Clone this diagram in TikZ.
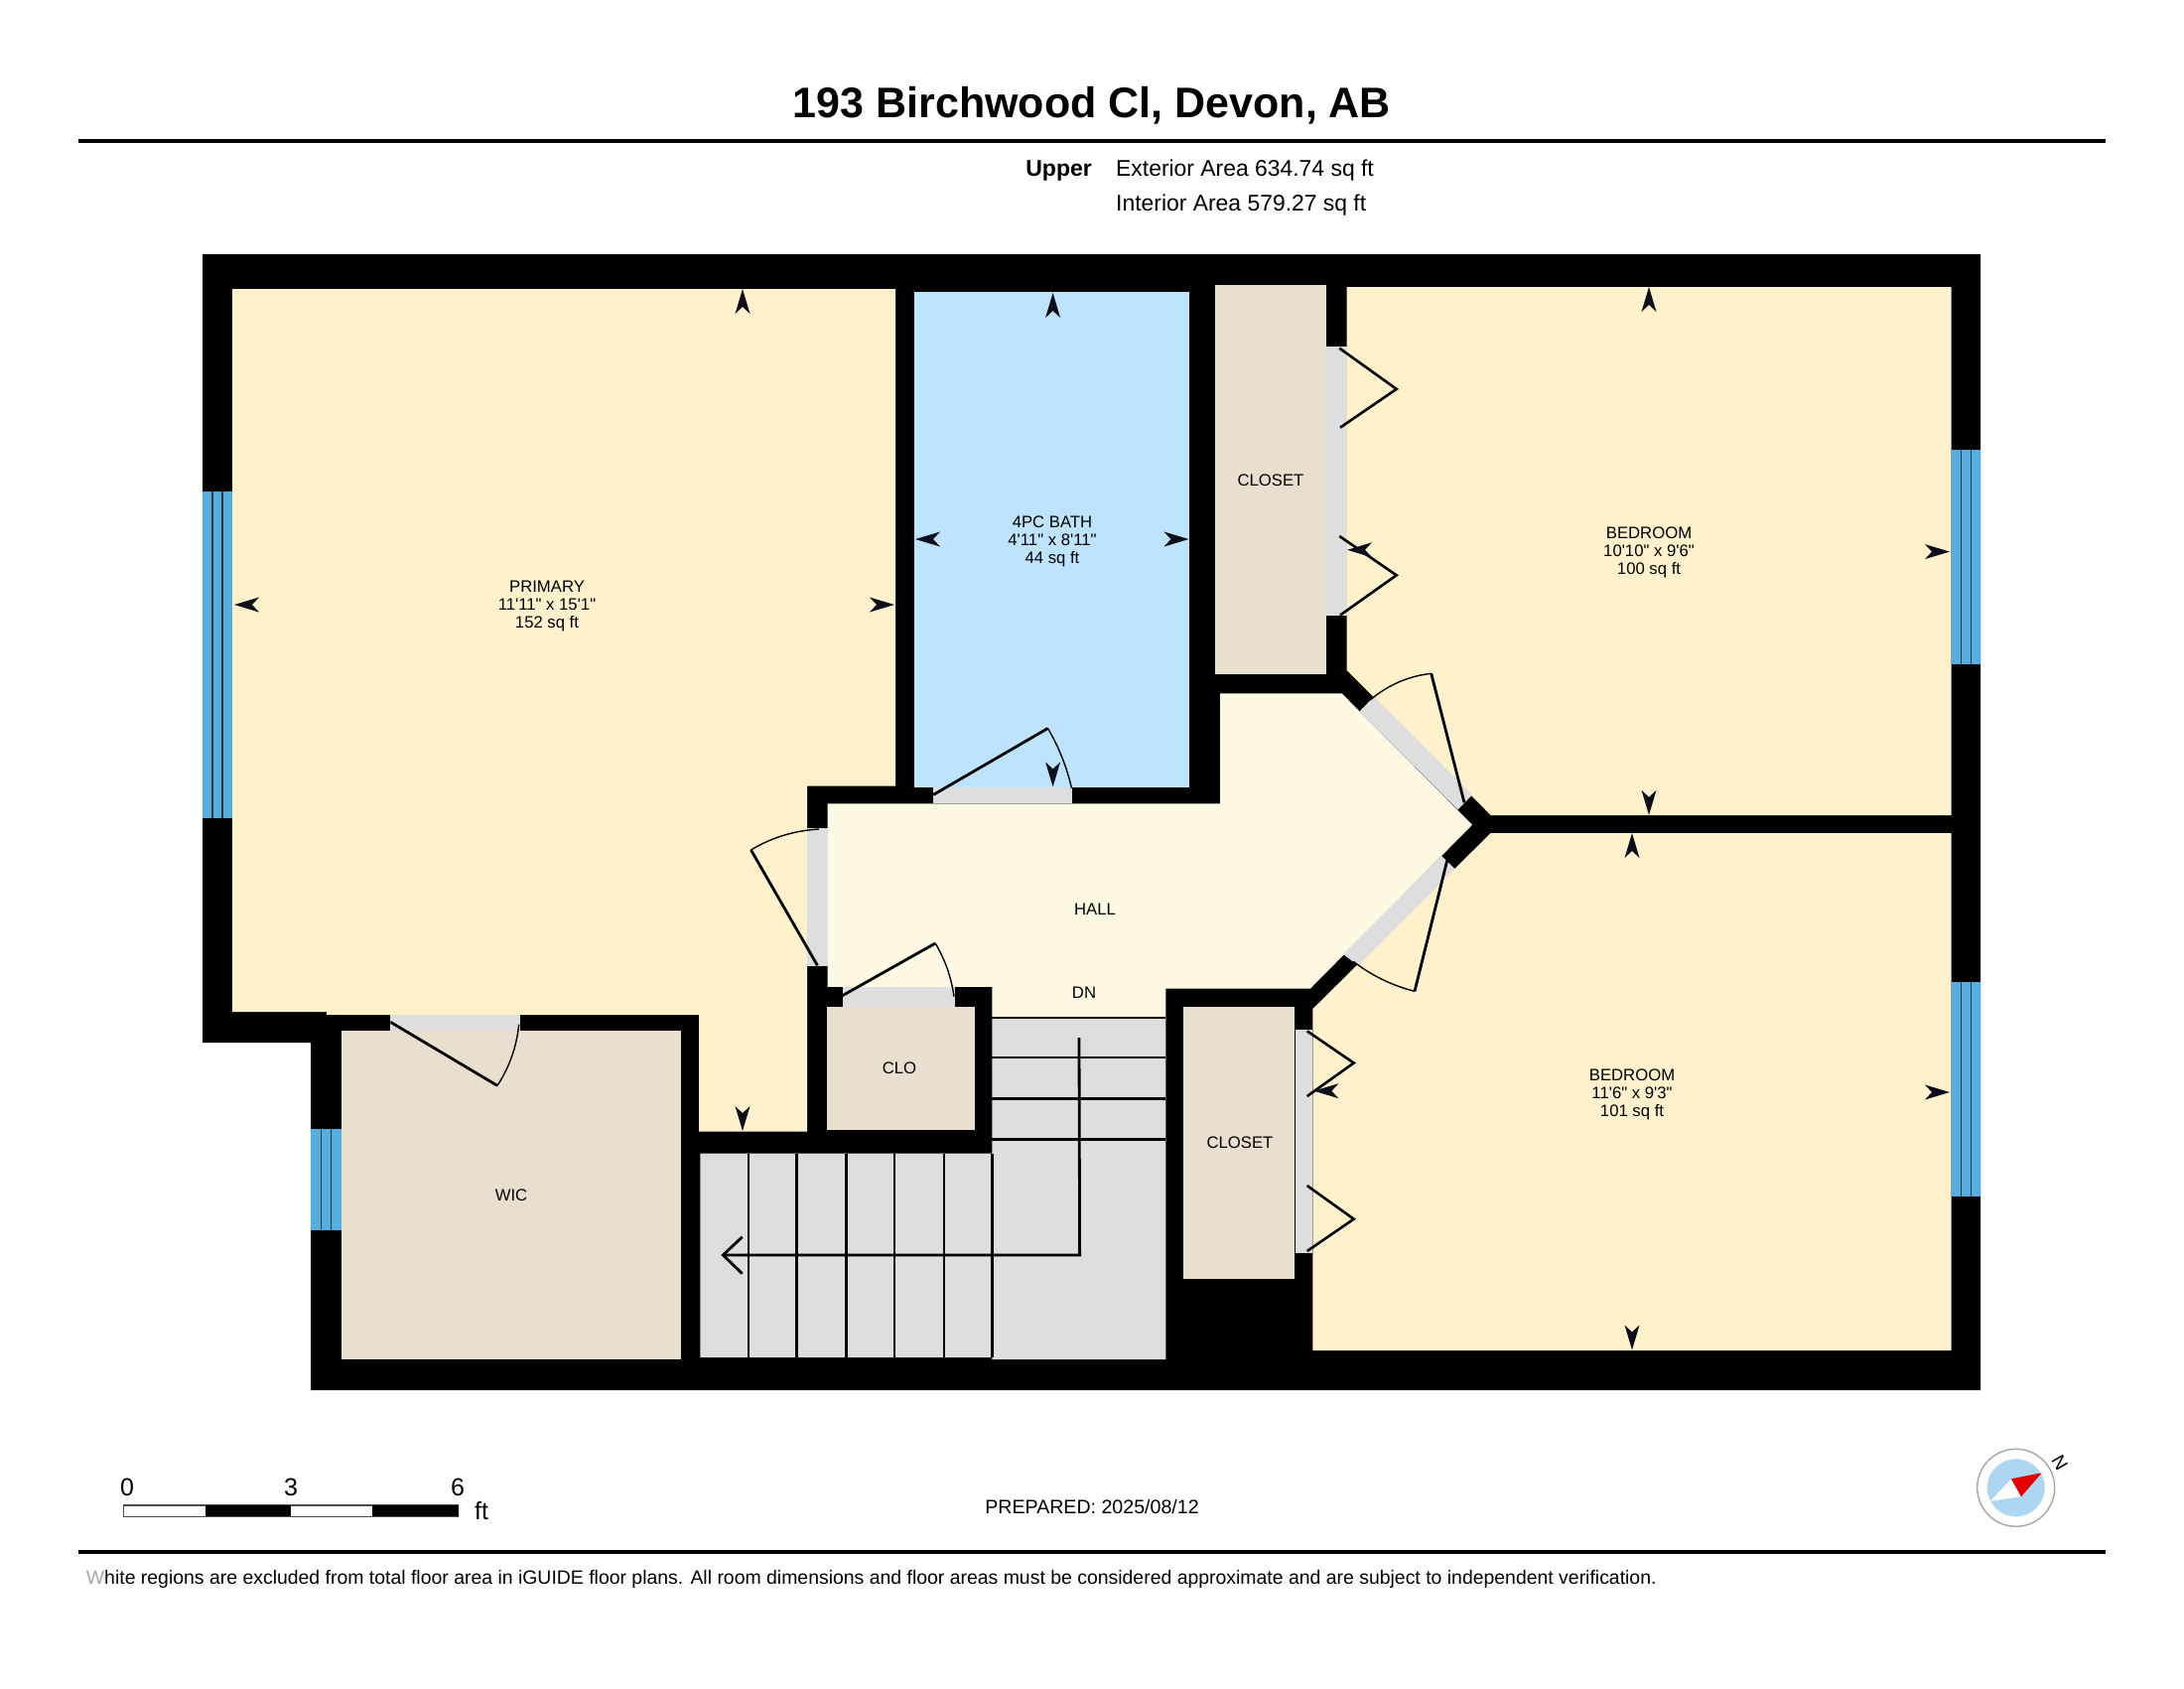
\documentclass[tikz,border=0pt]{standalone}
\usepackage{fontspec}
\usetikzlibrary{calc}
\setmainfont{Liberation Sans}
\newfontfamily\lab{Liberation Sans}
\definecolor{roomcream}{HTML}{FEF1CC}
\definecolor{hallcream}{HTML}{FEF9E3}
\definecolor{closetbeige}{HTML}{E8DFCE}
\definecolor{doorgray}{HTML}{DEDEDE}
\definecolor{bathblue}{HTML}{BDE3FD}
\definecolor{winblue}{HTML}{55AEE0}
\definecolor{compassblue}{HTML}{ADD6F3}
\definecolor{tipink}{HTML}{0C0F1A}
\newcommand{\dimtip}[3]{\begin{scope}[shift={(#1,#2)},rotate=#3]\fill[tipink] (0,0) -- (-25,-7.5) -- (-18,0) -- (-25,7.5) -- cycle;\end{scope}}
\newcommand{\swingarc}[3]{\draw[swing] (#1) .. controls ($(#1)!0.667!(#2)$) and ($(#3)!0.667!(#2)$) .. (#3);}
\tikzset{
  lab/.style={font=\lab\fontsize{16.7}{18}\selectfont,align=center,text=black,inner sep=0pt},
  leaf/.style={line width=2.8pt,black},
  swing/.style={line width=1.4pt,black},
  bifold/.style={line width=2.6pt,black},
  stairline/.style={line width=2.8pt,black},
  winline/.style={line width=1.4pt,black!80}
}
\begin{document}
\begin{tikzpicture}[x=1pt,y=-1pt]
\useasboundingbox (0,0) rectangle (2200,1700);
\fill[white] (0,0) rectangle (2200,1700);
% header
\node[font=\lab\bfseries\fontsize{43}{48}\selectfont,inner sep=0pt] (title) at (1100,106) {193 Birchwood Cl, Devon, AB};
\draw[line width=4pt] (78.6,142) coordinate (ruleTL) -- (2121,142) coordinate (ruleTR);
\node[font=\lab\bfseries\fontsize{23}{26}\selectfont,anchor=east,inner sep=0pt] (upper) at (1100,172) {Upper};
\node[font=\lab\fontsize{22.9}{26}\selectfont,anchor=west,inner sep=0pt] (ext) at (1124,172) {Exterior Area 634.74 sq ft};
\node[font=\lab\fontsize{22.9}{26}\selectfont,anchor=west,inner sep=0pt] (int) at (1124,207) {Interior Area 579.27 sq ft};
% walls
\fill[black] (204,256) -- (1995,256) -- (1995,1400) -- (313,1400) -- (313,1050) -- (204,1050) -- cycle;
% rooms
\fill[roomcream] (234,291) -- (902,291) -- (902,791.5) -- (813,791.5) -- (813,1139.5) -- (704,1139.5) -- (704,1022) -- (329,1022) -- (329,1019) -- (234,1019) -- cycle;
\fill[bathblue] (921,293.5) rectangle (1198,793.3);
\fill[closetbeige] (1224,287) rectangle (1335.7,678.8);
\fill[roomcream] (1356.7,289) -- (1965.6,289) -- (1965.6,821) -- (1501.7,821) -- (1356.7,675) -- cycle;
\fill[roomcream] (1322.4,1016) -- (1501.7,839) -- (1965.6,839) -- (1965.6,1360) -- (1322.4,1360) -- cycle;
\fill[hallcream] (833.6,809.4) -- (1229,809.4) -- (1229,698.4) -- (1351.7,698.4) -- (1483,830.7) -- (1320,995.5) -- (1174.4,995.5) -- (1174.4,1025) -- (999.4,1025) -- (999.4,993.8) -- (833.6,993.8) -- cycle;
\fill[closetbeige] (832.5,1013.8) rectangle (981.5,1137.5);
\fill[closetbeige] (1192,1013.8) rectangle (1304,1288);
\fill[closetbeige] (344.3,1037.7) rectangle (686,1369);
% stairs
\fill[doorgray] (705.3,1161.7) -- (999.4,1161.7) -- (999.4,1025) -- (1174.4,1025) -- (1174.4,1369) -- (999.4,1369) -- (999.4,1367) -- (705.3,1367) -- cycle;
\foreach \yy in {1025,1065,1106.7,1147.3} \draw[stairline] (999.4,\yy) -- (1174.4,\yy);
\foreach \xx in {754,802.4,852.4,901,951,999.4} \draw[stairline] (\xx,1161.7) -- (\xx,1367);
\draw[stairline] (1087,1045) -- (1087.6,1264) -- (728.3,1264);
\draw[stairline] (747.7,1245.7) -- (728.3,1264) -- (747.7,1282.7);
% door openings
\fill[doorgray] (940,793.3) rectangle (1079.5,809.4);
\fill[doorgray] (813,834) rectangle (833.6,973);
\fill[doorgray] (849,993.8) rectangle (962,1013.8);
\fill[doorgray] (393.3,1022.3) rectangle (524,1037.7);
\fill[doorgray] (1335.7,349.4) rectangle (1356.7,620.4);
\fill[doorgray] (1304.5,1037) rectangle (1322.4,1261.6);
\fill[doorgray] (1369.5,716.5) -- (1384,701.5) -- (1483,800.5) -- (1468.5,815.5) -- cycle;
\fill[doorgray] (1353,961) -- (1452,862) -- (1465.5,875) -- (1368.3,972.5) -- cycle;
% windows
\fill[winblue] (204,495) rectangle (234,824);
\draw[winline] (214,495) -- (214,824) (224,495) -- (224,824);
\fill[winblue] (313,1136.7) rectangle (344.3,1239.3);
\draw[winline] (323.3,1136.7) -- (323.3,1239.3) (333.3,1136.7) -- (333.3,1239.3);
\fill[winblue] (1965.6,453) rectangle (1995,669);
\draw[winline] (1975.4,453) -- (1975.4,669) (1985.2,453) -- (1985.2,669);
\fill[winblue] (1965.6,989) rectangle (1995,1205);
\draw[winline] (1975.4,989) -- (1975.4,1205) (1985.2,989) -- (1985.2,1205);
% door leaves and swings
\draw[leaf] (940.2,800.4) -- (1055.5,733.5);
\swingarc{1055.5,733.5}{1072,761.5}{1079.5,793.8}
\draw[leaf] (823.4,972.3) -- (756.5,856);
\swingarc{756.5,856}{787.2,837.3}{825,835}
\draw[leaf] (846.9,1003.6) -- (942.2,950);
\swingarc{942.2,950}{956.9,974.7}{961,1003.6}
\draw[leaf] (393.3,1029.3) -- (501,1093.3);
\swingarc{501,1093.3}{519.3,1065.3}{522.7,1031.7}
\draw[leaf] (1475,808.3) -- (1441.7,678.3);
\swingarc{1441.7,678.3}{1407.7,682}{1380,705}
\draw[leaf] (1457.7,866.7) -- (1425,998.3);
\swingarc{1425,998.3}{1391,989.7}{1363.3,968.3}
% bifold doors
\draw[bifold] (1349.3,350.7) -- (1406.7,391.8) -- (1350,430.6);
\draw[bifold] (1349.3,540) -- (1406.7,579.3) -- (1350,619.5);
\draw[bifold] (1316.7,1038.4) -- (1363.7,1070.5) -- (1316.7,1104);
\draw[bifold] (1316.7,1194) -- (1363.7,1227.7) -- (1316.7,1260);
% dimension tips
\dimtip{748}{291}{90}\dimtip{236}{609}{180}\dimtip{901}{609}{0}\dimtip{748}{1139}{270}
\dimtip{1060.6}{295}{90}\dimtip{922}{543}{180}\dimtip{1197.5}{543}{0}\dimtip{1060.6}{792.4}{270}
\dimtip{1661}{289}{90}\dimtip{1357}{553.8}{180}\dimtip{1964}{555.6}{0}\dimtip{1661}{820.8}{270}
\dimtip{1644}{839}{90}\dimtip{1323.4}{1098.7}{180}\dimtip{1964}{1100}{0}\dimtip{1644}{1359.5}{270}
% room labels
\node[lab] (primary) at (551,610.5) {PRIMARY\\11'11" x 15'1"\\152 sq ft};
\node[lab] (bath) at (1060,545) {4PC BATH\\4'11" x 8'11"\\44 sq ft};
\node[lab] (bed1) at (1661,556) {BEDROOM\\10'10" x 9'6"\\100 sq ft};
\node[lab] (bed2) at (1644,1102) {BEDROOM\\11'6" x 9'3"\\101 sq ft};
\node[lab] (closet1) at (1280,484) {CLOSET};
\node[lab] (closet2) at (1249,1151) {CLOSET};
\node[lab] (hall) at (1103,916) {HALL};
\node[lab] (dn) at (1092,1000) {DN};
\node[lab] (clo) at (906,1076) {CLO};
\node[lab] (wic) at (515,1204) {WIC};
% scale bar
\draw[line width=1.2pt,black!70,fill=white] (124.3,1516) rectangle (461.7,1527.3);
\fill[black] (207,1516) rectangle (293.3,1527.3);
\fill[black] (375,1516) rectangle (461.7,1527.3);
\node[font=\lab\fontsize{25}{28}\selectfont,inner sep=0pt] (s0) at (128,1497.7) {0};
\node[font=\lab\fontsize{25}{28}\selectfont,inner sep=0pt] (s3) at (293,1497.7) {3};
\node[font=\lab\fontsize{25}{28}\selectfont,inner sep=0pt] (s6) at (461,1497.7) {6};
\node[font=\lab\fontsize{25}{28}\selectfont,inner sep=0pt] (sft) at (485,1521.7) {ft};
% prepared
\node[font=\lab\fontsize{19.6}{22}\selectfont,inner sep=0pt] (prep) at (1100,1517) {PREPARED: 2025/08/12};
% compass
\draw[line width=1.4pt,black!35,fill=white] (2030.7,1498.3) circle[radius=39];
\fill[compassblue] (2030.7,1498.3) circle[radius=29];
\fill[white] (2026,1489.3) -- (2005,1511.7) -- (2036,1507.3) -- cycle;
\fill[red!90!black] (2026,1489.3) -- (2056.7,1483.3) -- (2036,1507.3) -- cycle;
\node[font=\lab\fontsize{19}{22}\selectfont,rotate=-60,inner sep=0pt] (north) at (2075,1473.3) {N};
% footer
\draw[line width=4pt] (78.6,1562.5) coordinate (ruleBL) -- (2121,1562.5) coordinate (ruleBR);
\node[font=\lab\fontsize{19.43}{22}\selectfont,anchor=west,inner sep=0pt] (foot) at (86.7,1590.5) {{\color{black!35}W}hite regions are excluded from total floor area in iGUIDE floor plans. All room dimensions and floor areas must be considered approximate and are subject to independent verification.};
\end{tikzpicture}
\end{document}
